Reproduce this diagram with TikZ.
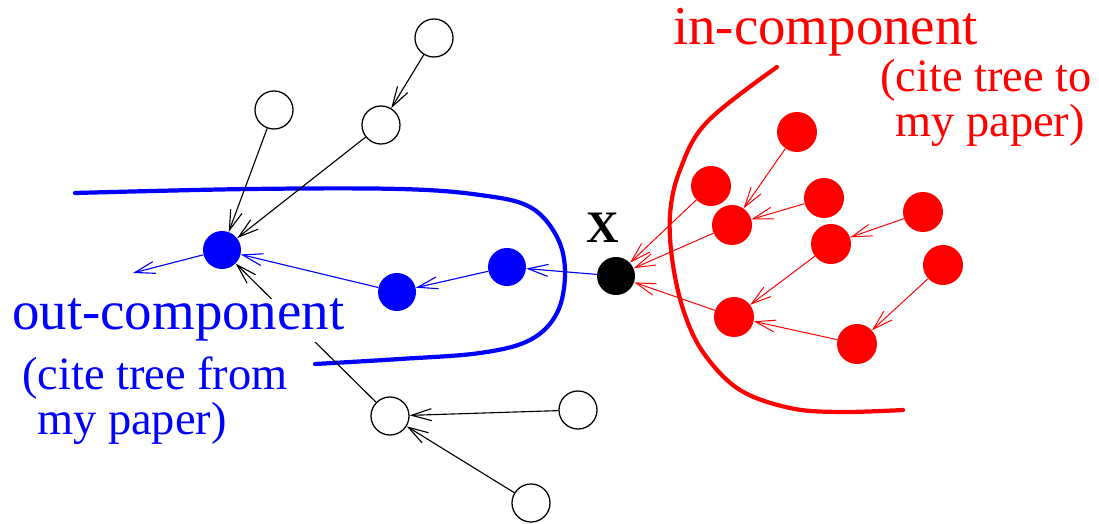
\documentclass[tikz,border=0pt]{standalone}
\usepackage{fontspec}
\setmainfont{Liberation Serif}
\usetikzlibrary{arrows.meta}

\begin{document}
\begin{tikzpicture}[x=0.025cm, y=-0.025cm,
    >={Straight Barb[length=0.5cm, width=0.3cm]},
    paper/.style={circle, draw, line width=0.9pt, minimum size=0.95cm, inner sep=0pt},
    outpaper/.style={circle, fill=blue, minimum size=0.95cm, inner sep=0pt},
    inpaper/.style={circle, fill=red, minimum size=1cm, inner sep=0pt},
    citeedge/.style={->, line width=0.8pt},
    boundary/.style={line width=3pt, line cap=round},
    biglabel/.style={anchor=base west, inner sep=0pt, font=\fontsize{39}{42}\selectfont},
    smalllabel/.style={anchor=base west, inner sep=0pt, font=\fontsize{33}{36}\selectfont}]
    \useasboundingbox (0,0) rectangle (1099,524);

    % Other papers (white)
    \node[paper] (w1) at (434,38) {};
    \node[paper] (w2) at (274,110) {};
    \node[paper] (w3) at (381,125) {};
    \node[paper] (w4) at (390,416) {};
    \node[paper] (w5) at (578,410) {};
    \node[paper] (w6) at (531,503) {};

    % The paper X
    \node[circle, fill=black, minimum size=0.95cm, inner sep=0pt] (X) at (616,276) {};
    \node[anchor=base west, inner sep=0pt, font=\fontsize{32}{34}\selectfont\bfseries] (Xlabel) at (586,243) {X};

    % Out-component (blue)
    \node[outpaper] (b1) at (222,250) {};
    \node[outpaper] (b2) at (397,292) {};
    \node[outpaper] (b3) at (507,267) {};
    \coordinate (bend) at (133,273);

    % In-component (red)
    \node[inpaper] (r1) at (797,132) {};
    \node[inpaper] (r2) at (711,186) {};
    \node[inpaper] (r3) at (732,225) {};
    \node[inpaper] (r4) at (824,198) {};
    \node[inpaper] (r5) at (923,212) {};
    \node[inpaper] (r6) at (831,244) {};
    \node[inpaper] (r7) at (943,265) {};
    \node[inpaper] (r8) at (734,317) {};
    \node[inpaper] (r9) at (857,344) {};

    % Boundaries
    \draw[boundary, blue] plot[smooth, tension=0.6] coordinates {(75,193) (250,189) (400,189) (480,195) (530,207) (557,237) (565,273) (557,313) (530,340) (480,353) (400,359) (315,364)};
    \draw[boundary, red] plot[smooth, tension=0.6] coordinates {(777,67) (707,122) (680,170) (670,215) (673,265) (685,315) (705,355) (740,390) (790,408) (840,412) (903,410)};

    % Citations
    \draw[citeedge] (w1) -- (w3);
    \draw[citeedge] (w3) -- (b1);
    \draw[citeedge] (w2) -- (b1);
    \draw[citeedge] (w4) -- (b1);
    \draw[citeedge] (w5) -- (w4);
    \draw[citeedge] (w6) -- (w4);

    \draw[citeedge, blue] (X) -- (b3);
    \draw[citeedge, blue] (b3) -- (b2);
    \draw[citeedge, blue] (b2) -- (b1);
    \draw[citeedge, blue] (b1) -- (bend);

    \draw[citeedge, red, line width=0.7pt] (r1) -- (r3);
    \draw[citeedge, red, line width=0.7pt] (r2) -- (X);
    \draw[citeedge, red, line width=0.7pt] (r3) -- (X);
    \draw[citeedge, red, line width=0.7pt] (r4) -- (r3);
    \draw[citeedge, red, line width=0.7pt] (r5) -- (r6);
    \draw[citeedge, red, line width=0.7pt] (r6) -- (r8);
    \draw[citeedge, red, line width=0.7pt] (r7) -- (r9);
    \draw[citeedge, red, line width=0.7pt] (r8) -- (X);
    \draw[citeedge, red, line width=0.7pt] (r9) -- (r8);

    % Labels
    \node[biglabel, blue, fill=white] (outlabel) at (12,330) {out-component};
    \node[smalllabel, blue] (outnote1) at (22,390) {(cite tree from};
    \node[smalllabel, blue] (outnote2) at (37,434) {my paper)};
    \node[biglabel, red] (inlabel) at (673,45) {in-component};
    \node[smalllabel, red] (innote1) at (880,92) {(cite tree to};
    \node[smalllabel, red] (innote2) at (895,137) {my paper)};
\end{tikzpicture}
\end{document}
